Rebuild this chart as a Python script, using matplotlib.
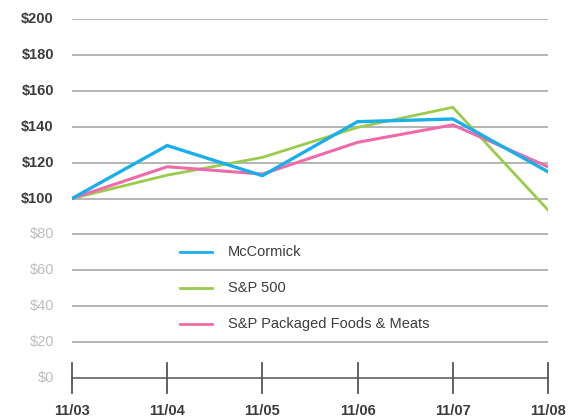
import matplotlib
matplotlib.use("Agg")
import matplotlib.pyplot as plt

# ── data ──────────────────────────────────────────────────────────────
years = ["11/03", "11/04", "11/05", "11/06", "11/07", "11/08"]
mccormick = [100, 129.5, 112.7, 142.8, 144.3, 114.9]
sp500 = [100, 113.0, 122.9, 139.6, 150.8, 93.6]
sp_foods = [100, 117.7, 113.6, 131.3, 141.0, 117.7]
y_ticks = [0, 20, 40, 60, 80, 100, 120, 140, 160, 180, 200]

color_blue = "#1aaeea"
color_green = "#9acb4c"
color_pink = "#ef6aa8"
color_grid = "#a0a0a0"
color_axis = "#555555"
color_dark = "#3c3c3c"
color_light = "#bdbdbd"

plt.rcParams["font.family"] = ["Liberation Sans", "DejaVu Sans"]

fig = plt.figure(figsize=(5.7, 4.16), dpi=100, facecolor="white")
ax = fig.add_axes([72 / 570, 38 / 416, 476 / 570, 359 / 416])
ax.set_xlim(0, len(years) - 1)
ax.set_ylim(0, 200)
ax.axis("off")

x = list(range(len(years)))

# gridlines (skip $0, that's the axis line)
for v in y_ticks[1:]:
    ax.axhline(v, color=color_grid, linewidth=1.1, zorder=1)

# baseline with tick marks crossing it
ax.axhline(0, color=color_axis, linewidth=1.1, zorder=2, clip_on=False)
for xi in x:
    ax.plot([xi, xi], [-8.5, 8.5], color=color_axis, linewidth=1.3,
            clip_on=False, zorder=2)

# y labels
for v in y_ticks:
    col = color_dark if v >= 100 else color_light
    ax.text(-0.19, v, f"${v}", ha="right", va="center", fontsize=10.5,
            color=col, fontweight="bold" if v >= 100 else "normal",
            clip_on=False)

# x labels
for xi, lab in zip(x, years):
    ax.text(xi, -14.5, lab, ha="center", va="top", fontsize=10.5,
            fontweight="bold", color=color_dark, clip_on=False)

# series
ax.plot(x, sp500, color=color_green, linewidth=2.0, zorder=3,
        solid_joinstyle="miter", label="S&P 500")
ax.plot(x, sp_foods, color=color_pink, linewidth=2.2, zorder=4,
        solid_joinstyle="miter", label="S&P Packaged Foods & Meats")
ax.plot(x, mccormick, color=color_blue, linewidth=2.4, zorder=5,
        solid_joinstyle="miter", label="McCormick")

# legend drawn manually between the gridlines
legend_items = [("McCormick", color_blue, 70),
                ("S&P 500", color_green, 50),
                ("S&P Packaged Foods & Meats", color_pink, 30)]
for name, col, yv in legend_items:
    ax.plot([1.13, 1.47], [yv, yv], color=col, linewidth=2.0, zorder=3)
    ax.text(1.64, yv, name, ha="left", va="center", fontsize=10.5,
            color=color_dark)

fig.savefig("out.png", dpi=100, facecolor="white")
